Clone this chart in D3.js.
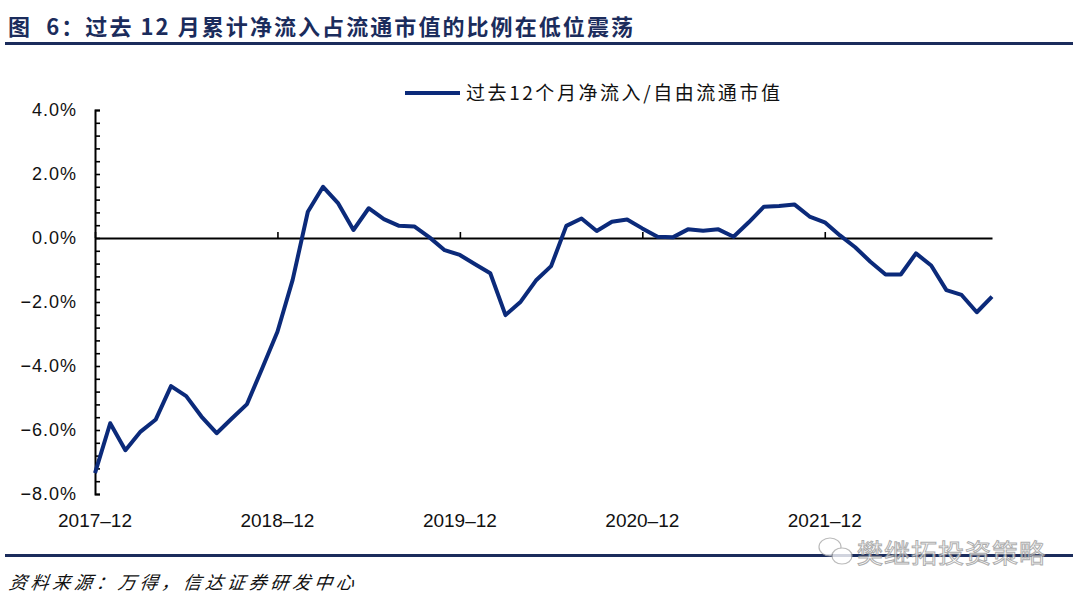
<!DOCTYPE html>
<html>
<head>
<meta charset="utf-8">
<script src="https://cdn.jsdelivr.net/npm/d3@7"></script>
<style>
  body { margin: 0; background: #fff; }
  svg { display: block; }
</style>
</head>
<body>
<svg id="chart" width="1080" height="603"></svg>
<script>
// monthly data, 2017-12 .. 2022-11
const months = d3.range(60).map((i) => {
  const d = new Date(2017, 11 + i, 1);
  return d3.timeFormat("%Y-%m")(d);
});

const netInflowRatio = [
  -7.35, -5.79, -6.63, -6.05, -5.67, -4.63, -4.94, -5.58, -6.10, -5.64,
  -5.19, -4.07, -2.93, -1.31, 0.82, 1.60, 1.08, 0.25, 0.93, 0.59,
  0.38, 0.36, 0.02, -0.38, -0.53, -0.82, -1.10, -2.41, -1.99, -1.33,
  -0.88, 0.38, 0.61, 0.22, 0.51, 0.58, 0.30, 0.04, 0.02, 0.27,
  0.23, 0.27, 0.04, 0.49, 0.98, 1.00, 1.05, 0.67, 0.49, 0.08,
  -0.29, -0.74, -1.14, -1.14, -0.48, -0.86, -1.63, -1.78, -2.32, -1.83
];

const xTickLabels = ["2017-12", "2018-12", "2019-12", "2020-12", "2021-12"];
const yLabelValues = [4, 2, 0, -2, -4, -6, -8];

const titleText = "图  6：过去 12 月累计净流入占流通市值的比例在低位震荡";
const legendText = "过去12个月净流入/自由流通市值";
const sourceText = "资料来源：万得，信达证券研发中心";
const watermarkText = "樊继拓投资策略";

const navy = "#1b2c5c";
const lineColor = "#0b2a7a";

const svg = d3.select("#chart");

// title + rules
svg.append("text")
  .attr("x", 8).attr("y", 35)
  .attr("font-family", "Noto Sans CJK SC")
  .attr("font-weight", "bold")
  .attr("font-size", 22)
  .attr("fill", navy)
  .attr("xml:space", "preserve")
  .style("white-space", "pre")
  .attr("textLength", 625)
  .attr("lengthAdjust", "spacing")
  .text(titleText);

svg.append("rect").attr("x", 5).attr("y", 42).attr("width", 1068).attr("height", 3).attr("fill", navy);
svg.append("rect").attr("x", 5).attr("y", 554).attr("width", 1068).attr("height", 3).attr("fill", navy);

svg.append("text")
  .attr("x", 8).attr("y", 589)
  .attr("font-family", "Noto Sans CJK SC")
  .attr("font-style", "italic")
  .attr("font-size", 18)
  .attr("fill", "#111")
  .attr("transform", "translate(83,0) skewX(-8)")
  .attr("textLength", 345)
  .attr("lengthAdjust", "spacing")
  .text(sourceText);

// scales
const x = d3.scalePoint().domain(months).range([95, 992]);
const y = d3.scaleLinear().domain([-8, 4]).range([494, 110]);

// y axis
const yTicks = d3.range(-8, 4.001, 0.4).map((v) => +v.toFixed(1));
const yAxis = d3.axisLeft(y)
  .tickValues(yTicks)
  .tickSize(-5)
  .tickFormat("");
const yG = svg.append("g").attr("transform", "translate(95,0)").call(yAxis);
yG.select(".domain").attr("stroke", "#000").attr("stroke-width", 2);
yG.selectAll(".tick line").attr("stroke", "#000").attr("stroke-width", 1.6);

svg.selectAll(".ylab")
  .data(yLabelValues)
  .enter()
  .append("text")
  .attr("class", "ylab")
  .attr("x", 77)
  .attr("y", (d) => y(d) + 6)
  .attr("text-anchor", "end")
  .attr("font-family", "Liberation Sans")
  .attr("font-size", 18)
  .attr("letter-spacing", 1)
  .attr("fill", "#111")
  .text((d) => d3.format(".1f")(d).replace("-", "\u2212") + "%");

// zero line with yearly ticks
const xAxis = d3.axisTop(x)
  .tickValues(xTickLabels)
  .tickSize(6)
  .tickSizeOuter(0)
  .tickFormat("");
const xG = svg.append("g").attr("transform", `translate(0,${y(0)})`).call(xAxis);
xG.select(".domain").attr("stroke", "#000").attr("stroke-width", 2);
xG.selectAll(".tick line").attr("stroke", "#000").attr("stroke-width", 1.6);

svg.selectAll(".xlab")
  .data(xTickLabels)
  .enter()
  .append("text")
  .attr("class", "xlab")
  .attr("x", (d) => x(d))
  .attr("y", 527)
  .attr("text-anchor", "middle")
  .attr("font-family", "Liberation Sans")
  .attr("font-size", 19)
  .attr("fill", "#111")
  .text((d) => d.replace("-", "\u2013"));

// line
const line = d3.line()
  .x((d, i) => x(months[i]))
  .y((d) => y(d));

svg.append("path")
  .datum(netInflowRatio)
  .attr("fill", "none")
  .attr("stroke", lineColor)
  .attr("stroke-width", 4)
  .attr("stroke-linejoin", "round")
  .attr("d", line);

// legend
svg.append("line")
  .attr("x1", 405).attr("x2", 460)
  .attr("y1", 93).attr("y2", 93)
  .attr("stroke", lineColor).attr("stroke-width", 4);
svg.append("text")
  .attr("x", 466).attr("y", 100)
  .attr("font-family", "Noto Sans CJK SC")
  .attr("font-size", 19)
  .attr("fill", "#111")
  .attr("textLength", 314)
  .attr("lengthAdjust", "spacing")
  .text(legendText);

// watermark
const wm = svg.append("g").attr("opacity", 0.8);
wm.append("ellipse").attr("cx", 830).attr("cy", 547).attr("rx", 11).attr("ry", 9)
  .attr("fill", "#fff").attr("stroke", "#aaa").attr("stroke-width", 1.2);
wm.append("ellipse").attr("cx", 842).attr("cy", 556).attr("rx", 10).attr("ry", 8)
  .attr("fill", "#fff").attr("stroke", "#aaa").attr("stroke-width", 1.2);
wm.append("text")
  .attr("x", 857).attr("y", 563)
  .attr("font-family", "Noto Sans CJK SC")
  .attr("font-size", 26)
  .attr("fill", "#fff")
  .attr("stroke", "#999")
  .attr("stroke-width", 1)
  .attr("textLength", 188)
  .attr("lengthAdjust", "spacing")
  .text(watermarkText);
</script>
</body>
</html>
